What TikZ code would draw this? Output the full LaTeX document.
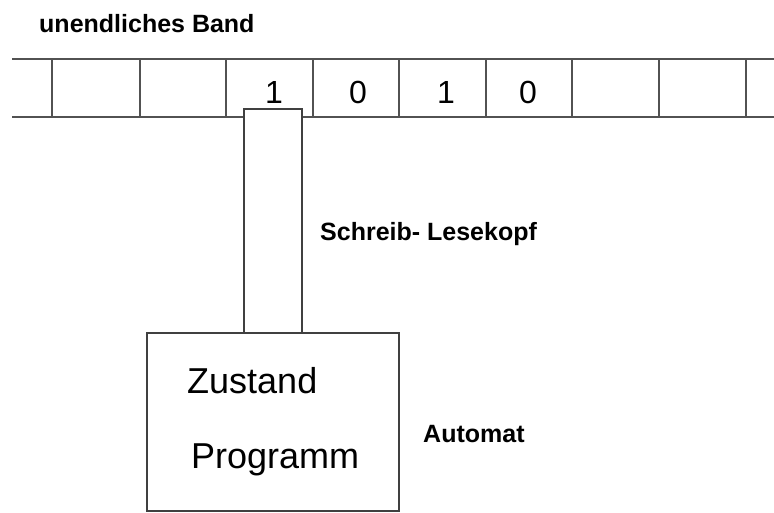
\documentclass[tikz,border=0pt]{standalone}
\usepackage{fontspec}
\setmainfont{Liberation Sans}
\begin{document}
\begin{tikzpicture}[x=1pt,y=-1pt,
  tapeline/.style={draw=black!68,line width=2pt},
  boxline/.style={draw=black!75,line width=2pt},
  bold label/.style={font=\bfseries\fontsize{25}{30}\selectfont,anchor=base west,inner sep=0pt},
  digit/.style={font=\fontsize{32}{36}\selectfont,anchor=base,inner sep=0pt},
  inner text/.style={font=\fontsize{36}{42}\selectfont,anchor=base west,inner sep=0pt}]
  \useasboundingbox (0,0) rectangle (774,512);
  \fill[white] (0,0) rectangle (774,512);

  % the tape: two long edges and the cell dividers
  \coordinate (tapeTL) at (12,59);
  \coordinate (tapeTR) at (774,59);
  \coordinate (tapeBL) at (12,117);
  \coordinate (tapeBR) at (774,117);
  \draw[tapeline] (tapeTL) -- (tapeTR);
  \draw[tapeline] (tapeBL) -- (tapeBR);
  \foreach \i/\x in {0/52,1/140,2/226,3/313,4/399,5/486,6/572,7/659,8/746}{
    \coordinate (d\i t) at (\x,59);
    \coordinate (d\i b) at (\x,117);
    \draw[tapeline] (d\i t) -- (d\i b);
  }

  % symbols on the tape
  \node[digit] (c1) at (274,103) {1};
  \node[digit] (c2) at (358,103) {0};
  \node[digit] (c3) at (446,103) {1};
  \node[digit] (c4) at (528,103) {0};

  % read/write head reaching into the tape
  \node[boxline,fill=white,rectangle,inner sep=0pt,anchor=north west,
        minimum width=58pt,minimum height=224pt] (head) at (243,108) {};

  % the automaton
  \node[boxline,fill=white,rectangle,inner sep=0pt,anchor=north west,
        minimum width=252pt,minimum height=178pt] (automat) at (146,332) {};
  \node[inner text] (zustand) at (187,393) {Zustand};
  \node[inner text] (programm) at (191,468) {Programm};

  % labels
  \node[bold label] (band) at (39,32) {unendliches Band};
  \node[bold label] (kopf) at (320,240) {Schreib- Lesekopf};
  \node[bold label] (auto) at (423,442) {Automat};
\end{tikzpicture}
\end{document}
